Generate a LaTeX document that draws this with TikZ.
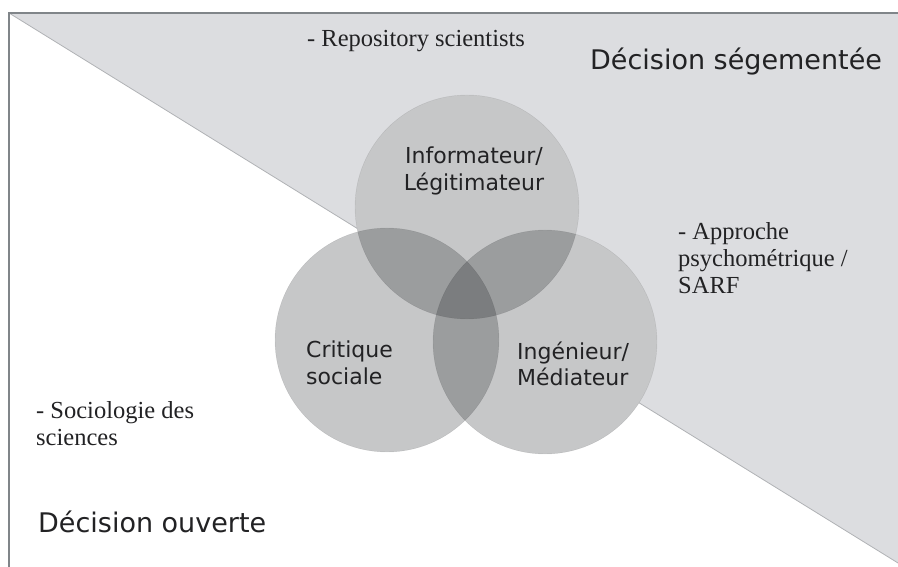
\documentclass[tikz,border=0pt]{standalone}
\usepackage{fontspec}
\setmainfont{Liberation Serif}
\newfontfamily\vsans{DejaVu Sans}
\usepackage{tikz}
\usetikzlibrary{calc}
\definecolor{bggray}{RGB}{220,221,224}
\definecolor{framegray}{RGB}{128,133,137}
\definecolor{linegray}{RGB}{176,178,181}
\definecolor{discgray}{RGB}{30,33,36}
\definecolor{txt}{RGB}{34,34,36}
\tikzstyle{disc}=[circle,fill=discgray,fill opacity=0.25,draw=discgray,draw opacity=0.12,minimum size=224pt,inner sep=0pt]
\tikzstyle{rolelabel}=[font=\vsans\fontsize{22}{26.5}\selectfont,text=txt,align=left,inner sep=0pt]
\tikzstyle{zonelabel}=[font=\vsans\fontsize{27}{32}\selectfont,text=txt,anchor=west,inner sep=0pt]
\tikzstyle{notelabel}=[font=\fontsize{24.5}{27}\selectfont,text=txt,align=left,anchor=west,inner sep=0pt]

\begin{document}
\begin{tikzpicture}[x=1pt,y=-1pt]
    \useasboundingbox (0,0) rectangle (898,567);

    % segmented zone above the diagonal
    \fill[bggray] (9,13) -- (898,13) -- (898,563) -- cycle;
    \draw[linegray,line width=0.8pt] (9,13) -- (898,563);
    \draw[framegray,line width=1.6pt] (898,13) -- (9,13) -- (9,567);

    % white base under the discs
    \foreach \pos in {(467,207),(387,340),(545,342)}
        \fill[white] \pos circle (112pt);

    % the three discs
    \foreach \pos/ \name in {{(467,207)/inf},{(387,340)/crit},{(545,342)/ing}}
        \node[disc] (\name) at \pos {};

    \node[rolelabel,align=center] (inflab) at (474,171) {Informateur/\\Légitimateur};
    \node[rolelabel,anchor=west] (critlab) at (306,363) {Critique\\sociale};
    \node[rolelabel,anchor=west] (inglab) at (517,364) {Ingénieur/\\Médiateur};

    % zones and approaches
    \node[zonelabel] (seg) at (590,62) {Décision ségementée};
    \node[zonelabel] (ouv) at (38,522) {Décision ouverte};
    \node[notelabel] (repo) at (307,41) {- Repository scientists};
    \node[notelabel] (psy) at (678,258) {- Approche\\psychométrique /\\SARF};
    \node[notelabel] (socio) at (36,424) {- Sociologie des\\sciences};
\end{tikzpicture}
\end{document}
